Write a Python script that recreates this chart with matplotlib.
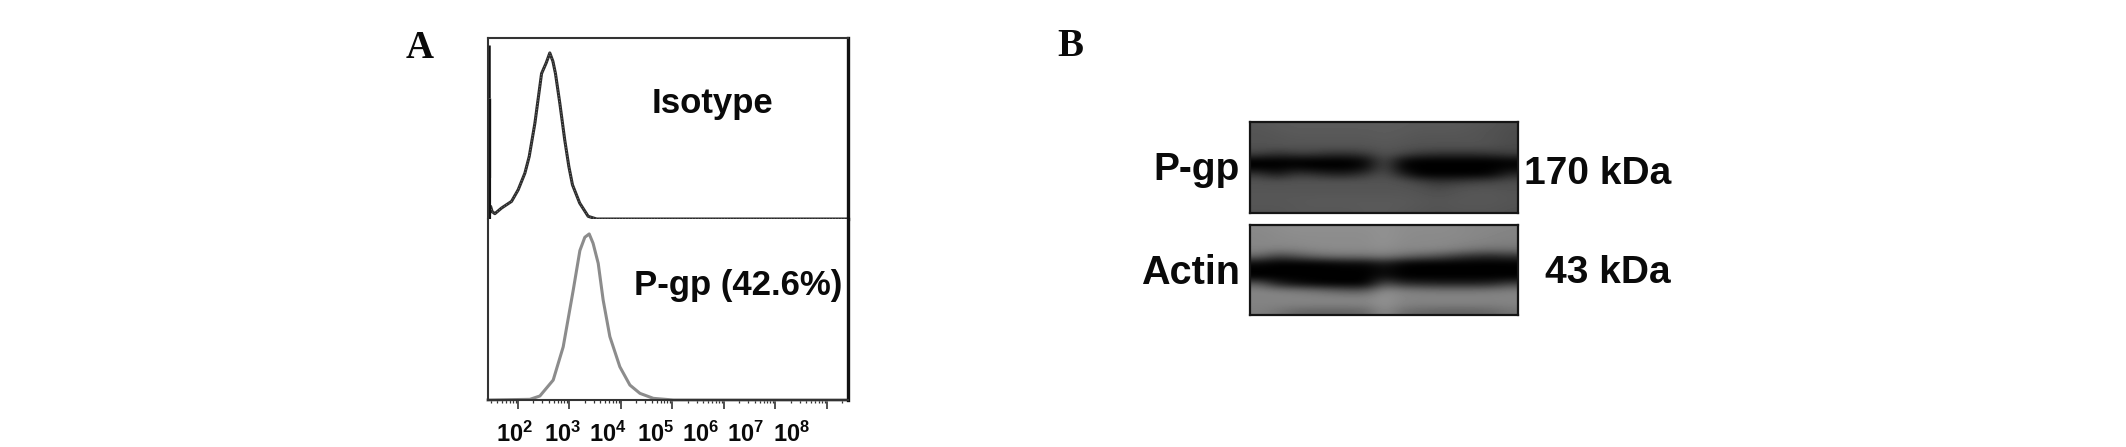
import numpy as np
import matplotlib
matplotlib.use('Agg')
import matplotlib.pyplot as plt
from matplotlib.ticker import LogLocator, NullFormatter

# Histogram values (log10 intensity, % of max)
isotype_log = [1.44, 1.47, 1.50, 1.553, 1.683, 1.877, 2.006, 2.136, 2.22, 2.33, 2.46, 2.55, 2.62,
               2.68, 2.73, 2.815, 2.91, 2.99, 3.06, 3.20, 3.365, 3.53, 8.41]
isotype_pct = [0.6, 7.6, 4.5, 3.2, 6.6, 10.6, 17.6, 27.6, 37.6, 57.6, 87.6, 94, 100,
               95, 87.6, 69.6, 47.6, 31.6, 20.6, 9.6, 1.6, 0, 0]
pgp_log = [1.42, 2.233, 2.427, 2.686, 2.88, 3.074, 3.204, 3.30, 3.385, 3.46, 3.56,
           3.656, 3.786, 3.98, 4.175, 4.37, 4.63, 5.02, 8.41]
pgp_pct = [0, 0.4, 2.4, 12, 32, 66, 90, 98, 100, 94.4, 82.3,
           60.2, 38.2, 20, 9, 4, 1, 0, 0]
# first bin pile-up on the left edge of the isotype plot
spike_from = [0, 25, 73]
spike_to = [25, 73, 104.6]
spike_lw = [3.0, 2.4, 1.8]

decades = [2, 3, 4, 5, 6, 7, 8]
tick_labels = ['$\\mathbf{10^{%d}}$' % d for d in decades]

# Grey levels of the two blots (rows top to bottom, 15 lanes across)
pgp_blot = [
    [.34, .35, .36, .36, .36, .36, .36, .36, .36, .35, .35, .35, .34, .33, .31],
    [.33, .34, .35, .35, .35, .35, .35, .36, .35, .34, .34, .34, .33, .32, .30],
    [.33, .33, .34, .34, .34, .34, .34, .35, .34, .33, .33, .33, .33, .32, .30],
    [.32, .33, .33, .33, .33, .33, .33, .34, .33, .32, .32, .32, .32, .31, .29],
    [.26, .20, .24, .24, .20, .20, .24, .33, .28, .22, .20, .20, .20, .22, .25],
    [.00, .00, .00, .00, .00, .00, .04, .30, .04, .00, .00, .00, .00, .00, .02],
    [.00, .00, .03, .00, .00, .00, .05, .30, .00, .00, .00, .00, .00, .00, .02],
    [.22, .10, .22, .20, .14, .14, .22, .32, .14, .00, .00, .00, .00, .02, .16],
    [.33, .32, .33, .33, .33, .33, .33, .33, .32, .25, .20, .22, .25, .27, .30],
    [.33, .33, .33, .33, .33, .33, .33, .33, .33, .32, .28, .32, .33, .33, .32],
    [.34, .34, .34, .34, .34, .34, .34, .34, .34, .33, .32, .33, .34, .34, .33],
    [.34, .34, .34, .35, .35, .35, .35, .35, .35, .34, .33, .34, .34, .34, .33],
    [.33, .33, .34, .34, .34, .34, .35, .35, .34, .33, .32, .33, .33, .33, .32],
]
actin_blot = [
    [.54, .55, .56, .56, .56, .56, .56, .57, .55, .55, .55, .54, .53, .53, .52],
    [.53, .54, .55, .55, .55, .55, .55, .57, .55, .54, .54, .54, .53, .52, .51],
    [.53, .54, .54, .55, .55, .55, .55, .57, .54, .54, .54, .53, .52, .51, .50],
    [.52, .50, .51, .53, .54, .54, .54, .55, .53, .53, .52, .50, .46, .44, .45],
    [.40, .26, .32, .40, .44, .45, .45, .48, .42, .36, .32, .24, .18, .16, .20],
    [.04, .00, .00, .00, .02, .04, .04, .12, .02, .00, .00, .00, .00, .00, .00],
    [.00, .00, .00, .00, .00, .00, .00, .04, .00, .00, .00, .00, .00, .00, .00],
    [.00, .00, .00, .00, .00, .00, .00, .08, .00, .00, .00, .00, .00, .00, .00],
    [.36, .14, .06, .02, .00, .00, .00, .32, .18, .16, .14, .14, .14, .16, .26],
    [.52, .50, .48, .45, .40, .36, .36, .55, .50, .48, .47, .47, .47, .48, .50],
    [.52, .52, .52, .52, .52, .52, .52, .58, .52, .52, .52, .52, .52, .52, .52],
    [.51, .51, .51, .51, .51, .51, .51, .57, .51, .50, .50, .50, .50, .50, .51],
    [.50, .46, .40, .38, .38, .38, .40, .55, .42, .40, .38, .38, .38, .40, .45],
]

W, H = 2126, 447
plt.rcParams['font.family'] = ['Liberation Sans', 'DejaVu Sans']
plt.rcParams['mathtext.fontset'] = 'custom'
plt.rcParams['mathtext.bf'] = 'Liberation Sans:bold'
plt.rcParams['mathtext.rm'] = 'Liberation Sans:bold'

fig = plt.figure(figsize=(W / 100, H / 100), dpi=100)


def box(x0, y0, x1, y1):
    # pixel box from the top left corner to figure fractions
    return [x0 / W, 1 - y1 / H, (x1 - x0) / W, (y1 - y0) / H]


def label(x, y, s, **kw):
    kw.setdefault('va', 'center')
    kw.setdefault('fontweight', 'bold')
    fig.text(x / W, 1 - y / H, s, color='#0a0a0a', **kw)


# Panel A, two stacked histograms sharing a log axis
ax1 = fig.add_axes(box(488, 38, 848, 219))
ax2 = fig.add_axes(box(488, 219, 848, 400))
for ax in (ax1, ax2):
    ax.set_xscale('log')
    ax.set_xlim(10 ** 1.42, 10 ** 8.41)
    ax.set_ylim(0, 109)
    ax.set_yticks([])
    for s in ax.spines.values():
        s.set_linewidth(1.5)
        s.set_color('#333333')
    ax.spines['right'].set_linewidth(2.4)
    ax.spines['right'].set_color('#111111')

ax1.plot(10 ** np.array(isotype_log), isotype_pct, color='#2b2b2b', lw=2.2, clip_on=False)
ax1.plot(10 ** np.array(isotype_log), isotype_pct, color='#777777', lw=0.7, ls=(0, (1, 2)), clip_on=False)
for a, b, lw in zip(spike_from, spike_to, spike_lw):
    ax1.plot([10 ** 1.44, 10 ** 1.44], [a, b], color='#111111', lw=lw, solid_capstyle='butt')
ax1.spines['bottom'].set_visible(False)
ax1.tick_params(axis='x', which='both', bottom=False, labelbottom=False)
ax1.text(0.624, 0.64, 'Isotype', transform=ax1.transAxes, ha='center', va='center',
         fontsize=25, fontweight='bold', color='#0a0a0a')

ax2.plot(10 ** np.array(pgp_log), pgp_pct, color='#8c8c8c', lw=2.2, clip_on=False)
ax2.spines['top'].set_visible(False)
ax2.set_xticks([10.0 ** d for d in decades])
ax2.set_xticklabels([])
ax2.xaxis.set_minor_locator(LogLocator(base=10, subs=np.arange(2, 10), numticks=12))
ax2.xaxis.set_minor_formatter(NullFormatter())
ax2.tick_params(axis='x', which='major', length=6.5, width=1.1, color='#222222')
ax2.tick_params(axis='x', which='minor', length=2.5, width=0.9, color='#333333')
ax2.text(0.983, 0.63, 'P-gp (42.6%)', transform=ax2.transAxes, ha='right', va='center',
         fontsize=25, fontweight='bold', color='#0a0a0a')

# tick labels sit a little left of their ticks in the original
label_x = [515, 563, 608, 656, 701, 746, 792]
for x, s in zip(label_x, tick_labels):
    label(x, 434, s, ha='center', fontsize=17)

# Panel letters
label(420, 48, 'A', ha='center', fontsize=28, family='Liberation Serif')
label(1070, 47, 'B', ha='center', fontsize=28, family='Liberation Serif')

# Panel B, blots drawn as smoothed grey cells
for blot, (y0, y1) in zip((pgp_blot, actin_blot), ((122, 213), (225, 315))):
    ax = fig.add_axes(box(1250, y0, 1518, y1))
    ax.imshow(blot, cmap='gray', vmin=0, vmax=1, aspect='auto', interpolation='bicubic')
    ax.set_xticks([])
    ax.set_yticks([])
    for s in ax.spines.values():
        s.set_linewidth(1.6)
        s.set_color('#151515')

label(1240, 170, 'P-gp', ha='right', fontsize=28)
label(1240, 273, 'Actin', ha='right', fontsize=28.5)
label(1671, 174, '170 kDa', ha='right', fontsize=28)
label(1671, 273, '43 kDa', ha='right', fontsize=28)

fig.savefig('out.png', dpi=100, facecolor='white')
